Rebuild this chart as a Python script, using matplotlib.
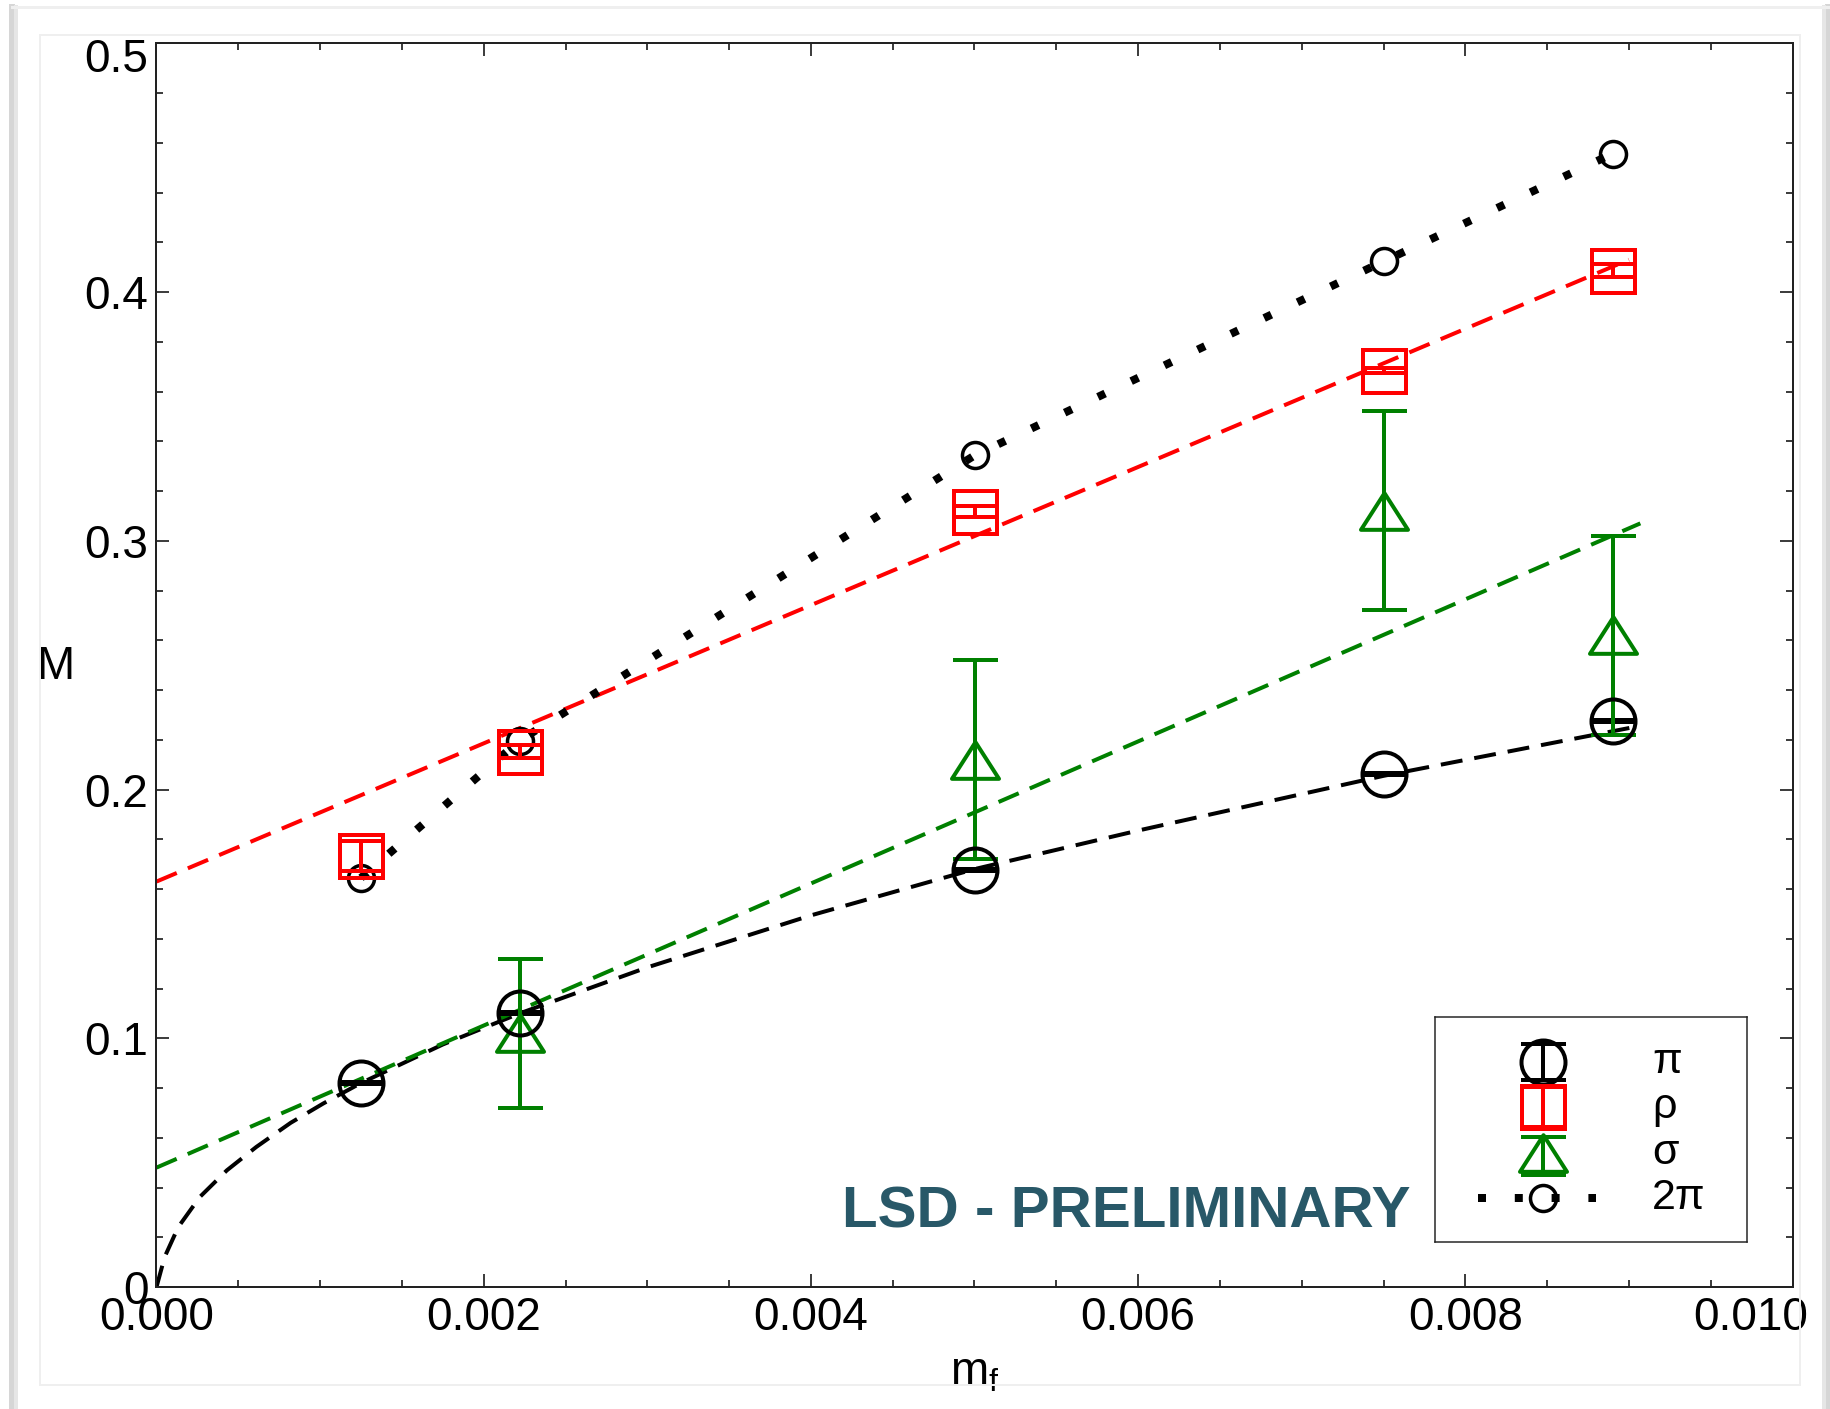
import matplotlib
matplotlib.use("Agg")
import matplotlib.pyplot as plt
from matplotlib.lines import Line2D
from matplotlib.patches import Rectangle
from matplotlib.path import Path
from matplotlib.ticker import MultipleLocator, FuncFormatter

plt.rcParams["font.family"] = ["Liberation Sans", "DejaVu Sans"]
plt.rcParams["mathtext.fontset"] = "custom"
plt.rcParams["mathtext.rm"] = "Liberation Sans"

# ---- measured spectrum vs fermion mass ------------------------------------
mf = [0.00125, 0.00222, 0.005, 0.0075, 0.0089]
m_pi = [0.0822, 0.1100, 0.1677, 0.2062, 0.2276]
m_pi_err = [0.0004, 0.0004, 0.0004, 0.0004, 0.0004]
m_rho = [0.1734, 0.2152, 0.3117, 0.3684, 0.4086]
m_rho_err = [0.006, 0.0027, 0.0022, 0.001, 0.0027]
m_2pi = [0.1645, 0.2197, 0.3343, 0.4123, 0.4556]
mf_sigma = [0.00222, 0.005, 0.0075, 0.0089]
m_sigma = [0.102, 0.212, 0.312, 0.262]
m_sigma_err = [0.03, 0.04, 0.04, 0.04]

# ---- fit curves -----------------------------------------------------------
pi_fit_x = [0.0, 0.00005, 0.000133, 0.000265, 0.00043, 0.00061, 0.00082,
            0.00102, 0.00125, 0.00175, 0.00222, 0.003, 0.004, 0.005, 0.006,
            0.0075, 0.00907]
pi_fit_y = [0.0, 0.0121, 0.0241, 0.0362, 0.0469, 0.0563, 0.0660,
            0.0738, 0.0820, 0.0975, 0.1100, 0.1285, 0.1494, 0.1680, 0.1835,
            0.2055, 0.2256]
rho_fit_x = [0.0, 0.0090]
rho_fit_y = [0.163, 0.413]
sigma_fit_x = [0.0, 0.00907]
sigma_fit_y = [0.048, 0.307]

x_ticks = [0.000, 0.002, 0.004, 0.006, 0.008, 0.010]
y_ticks = [0.0, 0.1, 0.2, 0.3, 0.4, 0.5]
legend_labels = ["\u03c0", "\u03c1", "\u03c3", "2\u03c0"]

DPI = 100
W, H = 1831, 1409


def pt(pixels):
    return pixels * 72.0 / DPI


RED = "#ff0000"
GREEN = "#008000"
LW = pt(4)
DASH = (5.5, 3.0)
DOTS = (0, (1.0, 3.6))
TICKFS = 33
XPAD, YPAD = pt(9), pt(8)

# open triangle, a little wider than tall
tri = Path([(-1, -0.78), (1, -0.78), (0, 0.78), (-1, -0.78)],
           [Path.MOVETO, Path.LINETO, Path.LINETO, Path.CLOSEPOLY])

pi_style = dict(fmt="o", ms=pt(44), mfc="none", mec="k", mew=LW, ecolor="k",
                elinewidth=LW, capsize=pt(22.5), capthick=LW)
rho_style = dict(fmt="s", ms=pt(43), mfc="none", mec=RED, mew=LW, ecolor=RED,
                 elinewidth=LW, capsize=pt(21.5), capthick=LW)
sig_style = dict(fmt="none", ecolor=GREEN, elinewidth=LW, capsize=pt(22.5),
                 capthick=LW)
sig_marker = dict(marker=tri, ms=pt(47), mfc="none", mec=GREEN, mew=LW, ls="none")
twopi_style = dict(marker="o", ms=pt(26), mfc="none", mec="k", mew=pt(3.5),
                   color="k", lw=pt(8), ls=DOTS)

fig = plt.figure(figsize=(W / DPI, H / DPI), dpi=DPI)

# slide frame with soft shadow
for off, col, w in [(0, "#d6d6d6", 6), (4, "#e6e6e6", 4)]:
    x0 = (12 + off) / W
    fig.add_artist(Line2D([x0, x0], [0, 1 - 7 / H], color=col, lw=pt(w)))
    x1 = (1828 - off) / W
    fig.add_artist(Line2D([x1, x1], [0, 1 - 7 / H], color=col, lw=pt(w)))
fig.add_artist(Line2D([12 / W, 1828 / W], [1 - 7 / H, 1 - 7 / H],
                      color="#efefef", lw=pt(3)))
fig.add_artist(Rectangle((40 / W, 1 - 1385 / H), 1760 / W, 1350 / H,
                         transform=fig.transFigure, fill=False,
                         ec="#efefef", lw=pt(2)))

ax = fig.add_axes([156.5 / W, 1 - 1287 / H, 1636 / W, (1287 - 43.3) / H])

ax.plot(pi_fit_x, pi_fit_y, color="k", lw=LW, ls="--", dashes=DASH)
ax.plot(rho_fit_x, rho_fit_y, color=RED, lw=LW, ls="--", dashes=DASH)
ax.plot(sigma_fit_x, sigma_fit_y, color=GREEN, lw=LW, ls="--", dashes=DASH)

ax.errorbar(mf, m_pi, yerr=m_pi_err, **pi_style)
ax.plot(mf, m_2pi, **twopi_style)
ax.errorbar(mf, m_rho, yerr=m_rho_err, **rho_style)
ax.errorbar(mf_sigma, m_sigma, yerr=m_sigma_err, **sig_style)
ax.plot(mf_sigma, m_sigma, **sig_marker)

ax.set_xlim(x_ticks[0], x_ticks[-1])
ax.set_ylim(y_ticks[0], y_ticks[-1])
ax.set_xticks(x_ticks)
ax.set_yticks(y_ticks)
ax.xaxis.set_minor_locator(MultipleLocator(0.0005))
ax.yaxis.set_minor_locator(MultipleLocator(0.02))


# the outermost labels are placed by hand so they stay inside the frame
def xfmt(v, _):
    return "" if abs(v - x_ticks[-1]) < 1e-9 else f"{v:.3f}"


def yfmt(v, _):
    if abs(v - y_ticks[-1]) < 1e-9:
        return ""
    return "0" if abs(v) < 1e-9 else f"{v:.1f}"


ax.xaxis.set_major_formatter(FuncFormatter(xfmt))
ax.yaxis.set_major_formatter(FuncFormatter(yfmt))
ax.annotate(f"{x_ticks[-1]:.3f}", xy=(x_ticks[-1], 0),
            xycoords=("data", "axes fraction"), xytext=(-pt(42), -XPAD),
            textcoords="offset points", ha="center", va="top", fontsize=TICKFS)
ax.annotate(f"{y_ticks[-1]:.1f}", xy=(0, y_ticks[-1]),
            xycoords=("axes fraction", "data"), xytext=(-YPAD, -pt(12)),
            textcoords="offset points", ha="right", va="center_baseline",
            fontsize=TICKFS)

ax.tick_params(which="both", direction="in", top=True, right=True,
               width=pt(1.5), labelsize=TICKFS, colors="k")
ax.tick_params(which="major", length=pt(13))
ax.tick_params(which="minor", length=pt(7))
ax.tick_params(axis="y", pad=YPAD)
ax.tick_params(axis="x", pad=XPAD)
for s in ax.spines.values():
    s.set_linewidth(pt(2))
    s.set_color("#222222")

ax.set_ylabel("M", rotation=0, fontsize=33, ha="center", va="center")
ax.yaxis.set_label_coords(-0.062, 0.4985)
ax.set_xlabel(r"m$_{\mathrm{f}}$", fontsize=33, va="center")
ax.xaxis.set_label_coords(0.5, -0.069)

fig.text(842 / W, 1 - 1212 / H, "LSD - PRELIMINARY", ha="left", va="center",
         fontsize=42, fontweight="bold", color="#285868")

# legend panel, drawn in its own pixel-sized frame
lax = ax.inset_axes([0.7815, 0.0362, 0.1907, 0.1809])
lax.set_xlim(0, 312)
lax.set_ylim(225, 0)
lax.set_xticks([])
lax.set_yticks([])
for s in lax.spines.values():
    s.set_linewidth(pt(1.5))
    s.set_color("#222222")
kx = 108
rows = [45, 90, 136, 181]
lax.errorbar([kx], [rows[0]], yerr=[18], **pi_style)
lax.errorbar([kx], [rows[1]], yerr=[20], **rho_style)
lax.errorbar([kx], [rows[2] + 3], yerr=[19], **sig_style)
lax.plot([kx], [rows[2]], **sig_marker)
lax.plot([43, 161], [rows[3], rows[3]], color="k", lw=pt(8), ls=DOTS)
lax.plot([kx], [rows[3]], **dict(twopi_style, ls="none"))
for y, lab in zip(rows, legend_labels):
    lax.text(217, y, lab, fontsize=31, ha="left", va="center")

fig.savefig("out.png", dpi=DPI)
